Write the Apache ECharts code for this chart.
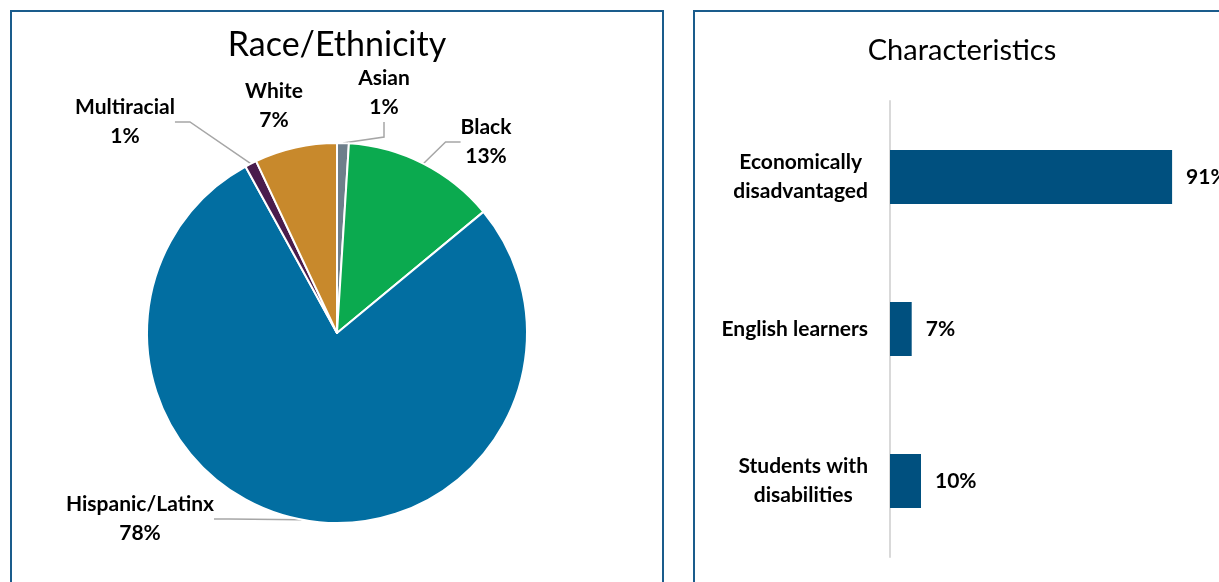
<!DOCTYPE html>
<html>
<head>
<meta charset="utf-8">
<script src="https://cdn.jsdelivr.net/npm/echarts@6/dist/echarts.min.js"></script>
<style>
html,body{margin:0;padding:0;background:#fff;}
#chart{width:1219px;height:582px;}
</style>
</head>
<body>
<div id="chart"></div>
<script>
// ---- data ----
const pieTitle = 'Race/Ethnicity';
const raceCategories = ['Asian', 'Black', 'Hispanic/Latinx', 'Multiracial', 'White'];
const raceValues = [1, 13, 78, 1, 7];
const raceColors = ['#6E7F8B', '#0BAA4F', '#026EA1', '#4A1C4C', '#C8892C'];

const barTitle = 'Characteristics';
const charCategories = ['Economically\ndisadvantaged', 'English learners', 'Students with\ndisabilities'];
const charValues = [91, 7, 10];

// ---- layout (styles only) ----
const pieCx = 337, pieCy = 333, pieR = 190;
const labelOffsets = [[47, -240], [149, -191], [-197, 186], [-212, -211], [-63, -227]];
const FONT = 'Lato, "Open Sans", sans-serif';
const LBL = 21;

const chart = echarts.init(document.getElementById('chart'), null, {renderer: 'canvas'});

const option = {
  animation: false,
  backgroundColor: '#fff',
  title: [
    {text: pieTitle, left: pieCx - 5, top: 23, textAlign: 'center',
     textStyle: {fontFamily: FONT, fontWeight: 'normal', fontSize: 34, color: '#000'}},
    {text: barTitle, left: 957, top: 31, textAlign: 'center',
     textStyle: {fontFamily: FONT, fontWeight: 'normal', fontSize: 29, color: '#000'}}
  ],
  graphic: [
    {type: 'rect', shape: {x: 11, y: 11, width: 652, height: 600},
     style: {fill: 'none', stroke: '#1A5C8C', lineWidth: 2}, z: 100},
    {type: 'rect', shape: {x: 694, y: 11, width: 600, height: 600},
     style: {fill: 'none', stroke: '#1A5C8C', lineWidth: 2}, z: 100}
  ],
  grid: {left: 890, right: 19, top: 101, bottom: 25, containLabel: false},
  xAxis: {type: 'value', min: 0, max: 100, show: false},
  yAxis: {
    type: 'category', inverse: true, data: charCategories,
    axisLine: {show: true, lineStyle: {color: '#D9D9D9', width: 2}},
    axisTick: {show: false},
    axisLabel: {
      align: 'right', margin: 22,
      formatter: function (v) { return v.split('\n').map(s => '{a|' + s + '}').join('\n'); },
      rich: {a: {align: 'center', fontFamily: FONT, fontWeight: 'bold', fontSize: LBL, color: '#000', lineHeight: 29}}
    }
  },
  series: [
    {
      type: 'pie',
      center: [pieCx, pieCy],
      radius: pieR,
      startAngle: 90,
      clockwise: true,
      data: raceCategories.map((c, i) => ({
        name: c, value: raceValues[i],
        itemStyle: {color: raceColors[i]},
        labelLine: {show: c !== 'White'}
      })),
      itemStyle: {borderColor: '#fff', borderWidth: 2},
      label: {
        show: true, position: 'outside',
        formatter: '{b}\n{c}%',
        fontFamily: FONT, fontWeight: 'bold', fontSize: LBL, color: '#000', lineHeight: 29, align: 'center'
      },
      labelLine: {show: true, length: 20, length2: 15, lineStyle: {color: '#A6A6A6', width: 1.5}},
      labelLayout: function (p) {
        const o = labelOffsets[p.dataIndex];
        return {x: pieCx + o[0], y: pieCy + o[1], align: 'center', verticalAlign: 'middle'};
      }
    },
    {
      type: 'bar',
      data: charValues,
      barWidth: '35.5%',
      itemStyle: {color: '#00507F'},
      label: {
        show: true, position: 'right', distance: 14, formatter: '{c}%',
        fontFamily: FONT, fontWeight: 'bold', fontSize: LBL, color: '#000'
      }
    }
  ]
};
chart.setOption(option);
</script>
</body>
</html>
